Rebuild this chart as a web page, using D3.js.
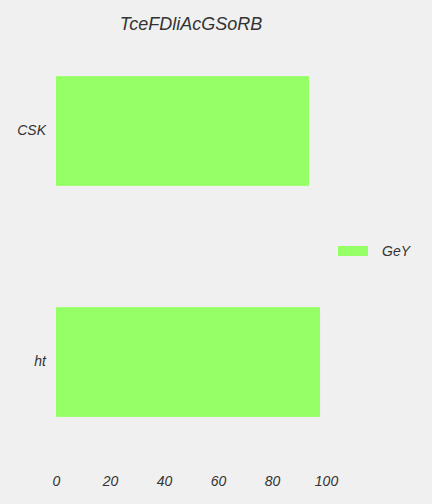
<!DOCTYPE html>
<html><head><meta charset="utf-8">
<script src="https://cdn.jsdelivr.net/npm/d3@7"></script>
<style>
html,body{margin:0;padding:0;background:#f0f0f0;}
text{font-family:"Liberation Sans",Arial,sans-serif;font-style:italic;fill:#333;}
</style></head>
<body>
<svg id="c" width="432" height="504"></svg>
<script>
const title = "TceFDliAcGSoRB";
const categories = ["CSK", "ht"];
const seriesName = "GeY";
const values = [93.7, 97.8];
const xTicks = [0, 20, 40, 60, 80, 100];
const barColor = "#95ff66";

const svg = d3.select("#c");
svg.append("rect").attr("width",432).attr("height",504).attr("fill","#f0f0f0");

const x = d3.scaleLinear().domain([0,100]).range([56,326]);
const y = d3.scaleBand().domain(categories).range([35,458]).paddingInner(0.525).paddingOuter(0.178);

svg.append("text").attr("x",(x.range()[0]+x.range()[1])/2).attr("y",30)
  .attr("text-anchor","middle").attr("font-size",18).text(title);

svg.selectAll("rect.bar").data(categories).enter().append("rect")
  .attr("class","bar")
  .attr("x",x(0)).attr("y",d=>y(d))
  .attr("width",(d,i)=>x(values[i])-x(0))
  .attr("height",y.bandwidth())
  .attr("fill",barColor);

const yAxis = svg.append("g").attr("transform","translate(56,0)")
  .call(d3.axisLeft(y).tickSize(0).tickPadding(10));
yAxis.select(".domain").remove();
yAxis.selectAll("text").attr("font-size",14).attr("fill","#333").style("font-family","'Liberation Sans',Arial,sans-serif").style("font-style","italic");

const xAxis = svg.append("g").attr("transform","translate(0,472)")
  .call(d3.axisBottom(x).tickValues(xTicks).tickSize(0).tickPadding(0));
xAxis.select(".domain").remove();
xAxis.selectAll("text").attr("font-size",14).attr("fill","#333").attr("dy","0.71em").attr("y",4).style("font-family","'Liberation Sans',Arial,sans-serif").style("font-style","italic");

const lg = svg.append("g");
lg.append("rect").attr("x",338).attr("y",246).attr("width",30).attr("height",10).attr("fill",barColor);
lg.append("text").attr("x",382).attr("y",256).attr("font-size",14).text(seriesName);
</script>
</body></html>
